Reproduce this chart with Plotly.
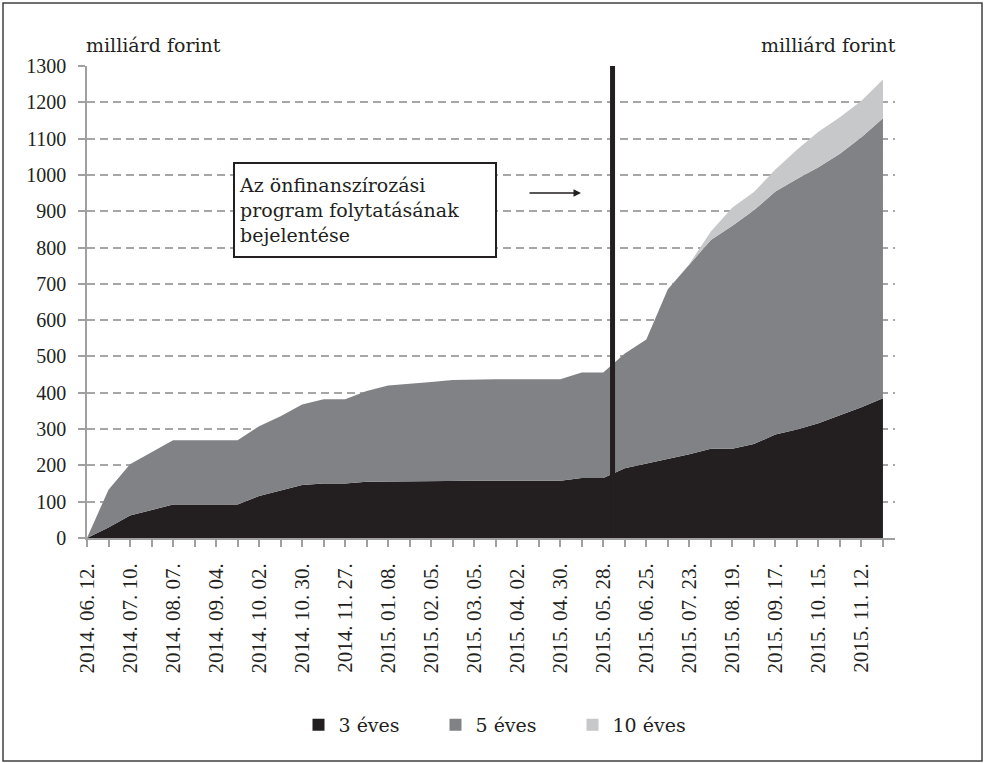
import plotly.graph_objects as go

# ---- data ----
dates = ["2014. 06. 12.", "2014. 06. 26.", "2014. 07. 10.", "2014. 07. 24.", "2014. 08. 07.", "2014. 08. 21.",
         "2014. 09. 04.", "2014. 09. 18.", "2014. 10. 02.", "2014. 10. 16.", "2014. 10. 30.", "2014. 11. 13.",
         "2014. 11. 27.", "2014. 12. 11.", "2015. 01. 08.", "2015. 01. 22.", "2015. 02. 05.", "2015. 02. 19.",
         "2015. 03. 05.", "2015. 03. 19.", "2015. 04. 02.", "2015. 04. 16.", "2015. 04. 30.", "2015. 05. 14.",
         "2015. 05. 28.", "2015. 06. 11.", "2015. 06. 25.", "2015. 07. 09.", "2015. 07. 23.", "2015. 08. 06.",
         "2015. 08. 19.", "2015. 09. 03.", "2015. 09. 17.", "2015. 10. 01.", "2015. 10. 15.", "2015. 10. 29.",
         "2015. 11. 12.", "2015. 11. 26."]
tick_labels = [d if i % 2 == 0 else "" for i, d in enumerate(dates)]

eves3 = [0, 29, 62, 77, 92, 92, 92, 92, 116, 130, 146, 150, 150, 155, 156, 157, 158, 158, 158, 158,
         158, 158, 158, 165, 165, 192, 205, 217, 231, 246, 246, 259, 285, 299, 316, 338, 360, 385]
eves5 = [0, 104, 141, 160, 177, 177, 177, 177, 192, 205, 222, 232, 232, 250, 264, 267, 272, 277, 279, 279,
         279, 279, 279, 291, 291, 316, 342, 468, 522, 575, 614, 644, 669, 690, 705, 720, 744, 771]
eves10 = [0] * 28 + [2, 23, 50, 50, 61, 80, 98, 101, 100, 107]

series_names = ["3 éves", "5 éves", "10 éves"]
colors = ["#231f20", "#808285", "#c7c8ca"]

NUMFONT = "Liberation Serif"
TXTFONT = "DejaVu Serif"
TXT = "#231f20"
AXC = "#a0a0a0"

fig = go.Figure()
for name, vals, col in zip(series_names, [eves3, eves5, eves10], colors):
    fig.add_trace(go.Scatter(x=dates, y=vals, name=name, mode="lines", stackgroup="one",
                             line=dict(width=0, color=col), fillcolor=col, showlegend=False,
                             hoverinfo="x+y+name"))
# legend entries (square markers)
for name, col in zip(series_names, colors):
    fig.add_trace(go.Scatter(x=[None], y=[None], name=name, mode="markers",
                             marker=dict(symbol="square", size=14, color=col)))

W, H = 985, 763
L, R, T, B = 87, 90, 66, 225
pw, ph = W - L - R, H - T - B

def px_x(p):
    return (p - L) / pw

def px_y(p):
    return (H - B - p) / ph

fig.update_layout(
    width=W, height=H,
    margin=dict(l=L, r=R, t=T, b=B, autoexpand=False),
    paper_bgcolor="white", plot_bgcolor="white",
    font=dict(family=TXTFONT, size=19, color=TXT),
    xaxis=dict(type="category", range=[0, 37.56], tickmode="array", tickvals=dates, ticktext=tick_labels,
               tickangle=-90, ticks="outside", ticklen=7, tickcolor=AXC, tickwidth=1.5,
               showline=True, linecolor=AXC, linewidth=1.5, showgrid=False, zeroline=False,
               ticklabelstandoff=8, automargin=False,
               tickfont=dict(family=NUMFONT, size=21, color=TXT)),
    yaxis=dict(range=[0, 1300], dtick=100, tick0=0, ticks="outside", ticklen=7, tickcolor=AXC,
               tickwidth=1.5, showline=True, linecolor=AXC, linewidth=1.5, automargin=False,
               showgrid=True, gridcolor="#a6a6a6", gridwidth=1.5, griddash="8px,5px", zeroline=False,
               ticklabelstandoff=8, tickfont=dict(family=NUMFONT, size=20, color=TXT)),
    yaxis2=dict(range=[0, 1300], dtick=100, tick0=0, overlaying="y", side="right", anchor="x",
                ticks="outside", ticklen=7, tickcolor=AXC, tickwidth=1.5, automargin=False,
                showline=True, linecolor=AXC, linewidth=1.5, showgrid=False, zeroline=False,
                tickfont=dict(family=NUMFONT, size=20, color=TXT)),
    legend=dict(orientation="h", x=px_x(504), xanchor="center", y=px_y(725), yanchor="middle",
                traceorder="normal", entrywidth=92, entrywidthmode="pixels",
                font=dict(family=TXTFONT, size=19, color=TXT), itemsizing="constant"),
)

# vertical announcement line
fig.add_shape(type="line", xref="x", yref="y", x0=24.43, x1=24.43, y0=0, y1=1300,
              line=dict(color="#231f20", width=5))

# text box
fig.add_annotation(xref="paper", yref="paper", x=px_x(365), y=px_y(210), xanchor="center", yanchor="middle",
                   text="Az önfinanszírozási<br>program folytatásának<br>bejelentése", showarrow=False,
                   align="left", width=252, height=84, borderpad=4, bordercolor="#231f20", borderwidth=2,
                   bgcolor="white", font=dict(family=TXTFONT, size=19, color=TXT))
# arrow
fig.add_annotation(xref="paper", yref="paper", x=px_x(581), y=px_y(193), ax=-53, ay=0, text="",
                   showarrow=True, arrowhead=2, arrowsize=1, arrowwidth=1.5, arrowcolor="#231f20")

# axis unit titles
fig.add_annotation(xref="paper", yref="paper", x=px_x(84), y=px_y(45), xanchor="left", yanchor="middle",
                   text="milliárd forint", showarrow=False, font=dict(family=TXTFONT, size=19, color=TXT))
fig.add_annotation(xref="paper", yref="paper", x=px_x(898), y=px_y(45), xanchor="right", yanchor="middle",
                   text="milliárd forint", showarrow=False, font=dict(family=TXTFONT, size=19, color=TXT))

# outer frame
fig.add_shape(type="rect", xref="paper", yref="paper", x0=px_x(3), x1=px_x(982), y0=px_y(761), y1=px_y(3),
              line=dict(color="#404040", width=1.5), layer="below")

fig.write_html("out.html", config={"displayModeBar": False},
               post_script="document.body.style.margin='0';document.body.style.overflow='hidden';")
